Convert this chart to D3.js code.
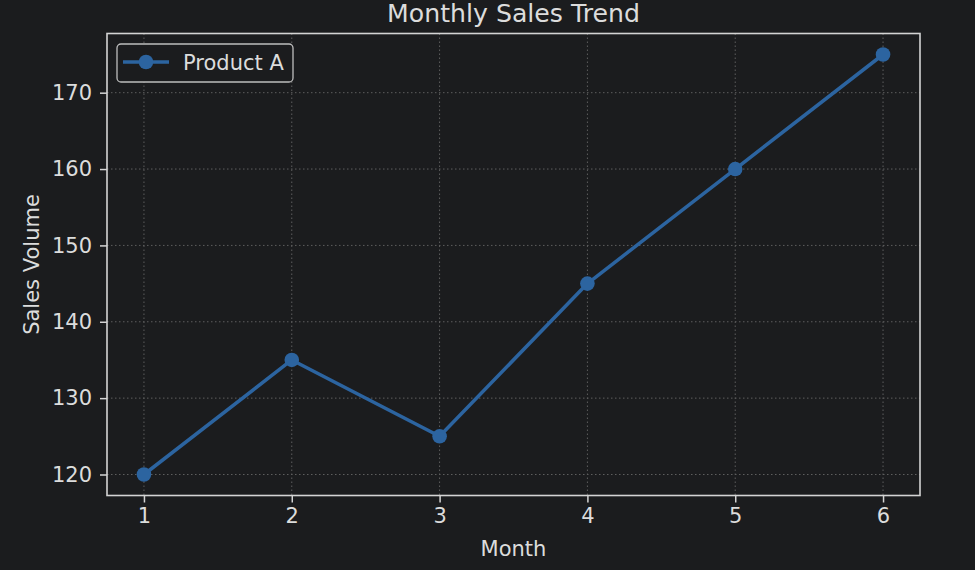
<!DOCTYPE html>
<html><head><meta charset="utf-8">
<script src="https://cdn.jsdelivr.net/npm/d3@7"></script>
<style>
html,body{margin:0;padding:0;background:#1b1c1e;}
svg{display:block;}
text{font-family:"DejaVu Sans",sans-serif;}
</style></head>
<body>
<svg id="chart" width="975" height="570"></svg>
<script>
const months = [1, 2, 3, 4, 5, 6];
const salesA = [120, 135, 125, 145, 160, 175];
const xTicks = [1, 2, 3, 4, 5, 6];
const yTicks = [120, 130, 140, 150, 160, 170];
const seriesName = "Product A";
const title = "Monthly Sales Trend";
const xLabel = "Month";
const yLabel = "Sales Volume";

const W = 975, H = 570;
const m = {left: 107, right: 55, top: 33.5, bottom: 74.5};
const iw = W - m.left - m.right, ih = H - m.top - m.bottom;
const textColor = "#dcdcdc", spineColor = "#d4d4d4", lineColor = "#2c64a0";
const FONT = "DejaVu Sans";

const svg = d3.select("#chart");
svg.append("rect").attr("width", W).attr("height", H).attr("fill", "#1b1c1e");

const xPad = (d3.max(months) - d3.min(months)) * 0.05;
const yPad = (d3.max(salesA) - d3.min(salesA)) * 0.05;
const x = d3.scaleLinear().domain([d3.min(months) - xPad, d3.max(months) + xPad]).range([0, iw]);
const y = d3.scaleLinear().domain([d3.min(salesA) - yPad, d3.max(salesA) + yPad]).range([ih, 0]);

const g = svg.append("g").attr("transform", `translate(${m.left},${m.top})`);

// grid
g.append("g").selectAll("line").data(xTicks).join("line")
  .attr("x1", d => x(d)).attr("x2", d => x(d)).attr("y1", 0).attr("y2", ih)
  .attr("stroke", "#5e5e5e").attr("stroke-width", 1).attr("stroke-dasharray", "1.5,2.5");
g.append("g").selectAll("line").data(yTicks).join("line")
  .attr("y1", d => y(d)).attr("y2", d => y(d)).attr("x1", 0).attr("x2", iw)
  .attr("stroke", "#5e5e5e").attr("stroke-width", 1).attr("stroke-dasharray", "1.5,2.5");

// axes
const xAxis = g.append("g").attr("transform", `translate(0,${ih})`)
  .call(d3.axisBottom(x).tickValues(xTicks).tickFormat(d3.format("d")).tickSize(7).tickPadding(6));
const yAxis = g.append("g")
  .call(d3.axisLeft(y).tickValues(yTicks).tickFormat(d3.format("d")).tickSize(7).tickPadding(8));
[xAxis, yAxis].forEach(a => {
  a.attr("font-family", FONT).attr("font-size", null);
  a.select(".domain").remove();
  a.selectAll(".tick line").attr("stroke", spineColor).attr("stroke-width", 1.5);
  a.selectAll(".tick text").attr("fill", textColor).attr("font-family", FONT)
    .style("font-size", "21px");
});

// frame
g.append("rect").attr("x", 0).attr("y", 0).attr("width", iw).attr("height", ih)
  .attr("fill", "none").attr("stroke", spineColor).attr("stroke-width", 1.6);

// line
const line = d3.line().x((d, i) => x(months[i])).y(d => y(d));
g.append("path").datum(salesA).attr("d", line).attr("fill", "none")
  .attr("stroke", lineColor).attr("stroke-width", 3.5).attr("stroke-linejoin", "round");
g.append("g").selectAll("circle").data(salesA).join("circle")
  .attr("cx", (d, i) => x(months[i])).attr("cy", d => y(d)).attr("r", 7.3).attr("fill", lineColor);

// title & labels
svg.append("text").attr("x", m.left + iw / 2).attr("y", 22).attr("text-anchor", "middle")
  .attr("font-family", FONT).attr("fill", textColor).style("font-size", "25.2px").text(title);
svg.append("text").attr("x", m.left + iw / 2).attr("y", 556).attr("text-anchor", "middle")
  .attr("font-family", FONT).attr("fill", textColor).style("font-size", "21px").text(xLabel);
svg.append("text").attr("transform", `translate(39,${m.top + ih / 2}) rotate(-90)`).attr("text-anchor", "middle")
  .attr("font-family", FONT).attr("fill", textColor).style("font-size", "21px").text(yLabel);

// legend
const lg = svg.append("g").attr("transform", "translate(117,44)");
lg.append("rect").attr("width", 176).attr("height", 38).attr("rx", 4)
  .attr("fill", "#1b1c1e").attr("stroke", "#bdbdbd").attr("stroke-width", 1.3);
lg.append("line").attr("x1", 6).attr("x2", 52).attr("y1", 18).attr("y2", 18)
  .attr("stroke", lineColor).attr("stroke-width", 3.5);
lg.append("circle").attr("cx", 29).attr("cy", 18).attr("r", 7.3).attr("fill", lineColor);
lg.append("text").attr("x", 66).attr("y", 25.5).attr("fill", textColor)
  .attr("font-family", FONT).style("font-size", "21px").text(seriesName);
</script>
</body></html>
